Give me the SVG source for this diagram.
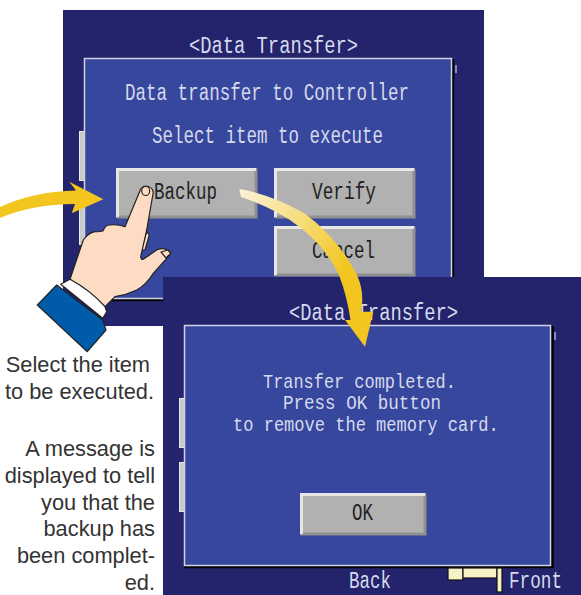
<svg xmlns="http://www.w3.org/2000/svg" width="581" height="595" viewBox="0 0 581 595">
<style>
.scr{fill:#24246c}
.dlg{fill:#37479d;stroke:#cfd3e6;stroke-width:1.5}
.shd{fill:none;stroke:#000;stroke-width:2.5}
.btn{fill:#b0b1b0}
.hi{fill:none;stroke:#e6e7e6;stroke-width:3}
.lo{fill:none;stroke:#8f908f;stroke-width:3}
.sl{fill:#c9cac9;stroke:#e8e8e8;stroke-width:1}
.t{font-family:"Liberation Mono",monospace;font-size:23.5px;fill:#d6daec}
.m{font-family:"Liberation Mono",monospace;font-size:21px;fill:#d6daec}
.k{font-family:"Liberation Mono",monospace;font-size:23.5px;fill:#222}
.c{font-family:"Liberation Sans",Arial,sans-serif;font-size:21.8px;fill:#333;text-anchor:end}
.h{fill:#fddcc3;stroke:#222;stroke-width:1.2;stroke-linejoin:round}
.cf{fill:#f7f1c8;stroke:#111;stroke-width:1.2}
</style>
<defs>
<linearGradient id="g" gradientUnits="userSpaceOnUse" x1="240" y1="190" x2="345" y2="270">
<stop offset="0" stop-color="#fcf3d8"/><stop offset="1" stop-color="#f2c61e"/>
</linearGradient>
</defs>
<g id="screen-select">
<rect class="scr" x="63" y="10" width="421" height="316"/>
<rect class="sl" x="79.500" y="131.500" width="6" height="49"/>
<rect class="sl" x="79.500" y="195.500" width="6" height="49"/>
<text class="t" x="189" y="53" textLength="169" lengthAdjust="spacingAndGlyphs">&lt;Data Transfer&gt;</text>
<path class="shd" d="M453 59V300H100"/>
<rect class="dlg" x="84.500" y="58.500" width="367" height="240"/>
<path d="M456 65v8" stroke="#cfd3e6" stroke-width="1.200"/>
<text class="t" x="125" y="100" textLength="284" lengthAdjust="spacingAndGlyphs">Data transfer to Controller</text>
<text class="t" x="152" y="143" textLength="231" lengthAdjust="spacingAndGlyphs">Select item to execute</text>
<g id="btn-backup">
<rect class="btn" x="116" y="168" width="141" height="50"/>
<path class="lo" d="M256 169V217H117"/><path class="hi" d="M117.500 217V169.500H256"/>
<text class="k" x="154" y="199" textLength="63" lengthAdjust="spacingAndGlyphs">Backup</text>
</g>
<g id="btn-verify">
<rect class="btn" x="274" y="168" width="141" height="50"/>
<path class="lo" d="M414 169V217H275"/><path class="hi" d="M275.500 217V169.500H414"/>
<text class="k" x="312" y="199" textLength="64" lengthAdjust="spacingAndGlyphs">Verify</text>
</g>
<g id="btn-cancel">
<rect class="btn" x="274" y="226" width="141" height="50"/>
<path class="lo" d="M414 227V275H275"/><path class="hi" d="M275.500 275V227.500H414"/>
<text class="k" x="312" y="258" textLength="63" lengthAdjust="spacingAndGlyphs">Cancel</text>
</g>
</g>
<g id="hand">
<path class="h" d="M146.700 231.700L149.300 235L145 250L141 250Z"/>
<path class="h" d="M70 279.300L83.300 240Q88 233 95 231.700Q100 232 103.300 230.700Q105 225 110 225Q118 224 125 226.700L139.500 192Q141 186.500 145.700 186Q152 186.500 153.300 192L146.700 230L140.700 256.700Q141 260 143.300 259.300L156.700 250Q161 248 165 249L170.700 253.300L166.700 258.300L153.300 273.300Q146 285 136.700 290Q126 295 115 296.700L105 306.700Z"/>
<ellipse class="h" cx="145.700" cy="191" rx="4" ry="4.500"/>
<path class="h" d="M161 252L168 250L170.700 253.300L166 258Z"/>
<path d="M60.700 284.300L70 279.300Q90 290 105 306.700L106.700 311.700L102.700 318.300Z" fill="#fff" stroke="#222" stroke-width="1.200" stroke-linejoin="round"/>
<path d="M56.700 285L102.700 320L106 330L87.300 351.700L37.300 305Z" fill="#005bab" stroke="#222" stroke-width="1.200" stroke-linejoin="round"/>
</g>
<g id="screen-completed">
<rect class="scr" x="163" y="277" width="418" height="318"/>
<rect class="sl" x="179.500" y="398.500" width="6" height="49"/>
<rect class="sl" x="179.500" y="462.500" width="6" height="49"/>
<text class="t" x="289" y="320" textLength="169" lengthAdjust="spacingAndGlyphs">&lt;Data Transfer&gt;</text>
<path class="shd" d="M552.500 326V567H184"/>
<rect class="dlg" x="184.500" y="325.500" width="366" height="240"/>
<path d="M555 332v8" stroke="#cfd3e6" stroke-width="1.200"/>
<text class="m" transform="translate(263 388) scale(.806 1)">Transfer completed.</text>
<text class="m" transform="translate(283 409) scale(.836 1)">Press OK button</text>
<text class="m" transform="translate(233 431) scale(.812 1)">to remove the memory card.</text>
<g id="btn-ok">
<rect class="btn" x="300" y="493" width="126" height="42"/>
<path class="lo" d="M425 494V534H301"/><path class="hi" d="M301.500 534V494.500H425"/>
<text class="k" x="352" y="520" textLength="21" lengthAdjust="spacingAndGlyphs">OK</text>
</g>
<text class="t" x="349" y="588" textLength="42" lengthAdjust="spacingAndGlyphs">Back</text>
<text class="t" x="509" y="588" textLength="53" lengthAdjust="spacingAndGlyphs">Front</text>
<rect class="cf" x="448" y="568" width="15" height="12"/>
<rect class="cf" x="463" y="568" width="34" height="10"/>
<rect class="cf" x="497" y="568" width="5" height="24"/>
</g>
<g id="connectors">
<path fill="#f2c61e" d="M0 207Q33 191.500 76 190.500L69.300 181.700L103.300 199.300L71.700 213.300L75 204Q33 204 0 218Z"/>
<path fill="url(#g)" d="M239.300 189Q270 194 304 213Q338 238 357 275Q365 293 361 311.700L373.300 311.700L365 346.700L345 320L350.500 320Q347 296 339 275Q324 243 290 220Q268 206 241 197Z"/>
</g>
<g id="captions">
<text class="c" x="150" y="372">Select the item</text>
<text class="c" x="154" y="399">to be executed.</text>
<text class="c" x="155" y="456">A message is</text>
<text class="c" x="155" y="483">displayed to tell</text>
<text class="c" x="155" y="510">you that the</text>
<text class="c" x="155" y="536">backup has</text>
<text class="c" x="155" y="563">been complet-</text>
<text class="c" x="155" y="590">ed.</text>
</g>
</svg>
